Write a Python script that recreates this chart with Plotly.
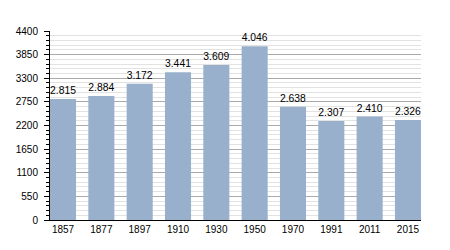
import plotly.graph_objects as go

years = ["1857", "1877", "1897", "1910", "1930", "1950", "1970", "1991", "2011", "2015"]
population = [2815, 2884, 3172, 3441, 3609, 4046, 2638, 2307, 2410, 2326]
labels = ["2.815", "2.884", "3.172", "3.441", "3.609", "4.046", "2.638", "2.307", "2.410", "2.326"]
y_ticks = [0, 550, 1100, 1650, 2200, 2750, 3300, 3850, 4400]

fig = go.Figure(
    go.Bar(
        x=years,
        y=population,
        text=labels,
        textposition="outside",
        textfont=dict(family="Liberation Sans, Arial, sans-serif", size=10.5, color="#000"),
        marker=dict(color="#98b0cb", line=dict(width=0)),
        cliponaxis=False,
        hoverinfo="skip",
    )
)

fig.update_layout(
    width=450,
    height=250,
    margin=dict(l=50, r=29, t=31, b=30),
    paper_bgcolor="white",
    plot_bgcolor="white",
    bargap=0.32,
    showlegend=False,
    font=dict(family="Liberation Sans, Arial, sans-serif", size=10, color="#000"),
)

fig.update_xaxes(
    type="category",
    range=[-0.34, 9.34],
    showline=True,
    linecolor="#000",
    linewidth=1,
    ticks="",
    showgrid=False,
    tickfont=dict(size=10),
    fixedrange=True,
)

fig.update_yaxes(
    range=[0, 4400],
    tickvals=y_ticks,
    ticktext=[str(v) for v in y_ticks],
    showline=True,
    linecolor="#000",
    linewidth=1,
    ticks="outside",
    ticklen=5,
    tickcolor="#000",
    showgrid=True,
    gridcolor="#aaaaaa",
    gridwidth=1,
    zeroline=False,
    tickfont=dict(size=10),
    ticklabelstandoff=4,
    minor=dict(
        dtick=110,
        tick0=0,
        ticks="outside",
        ticklen=3,
        tickcolor="#000",
        showgrid=True,
        gridcolor="#e2e2e2",
        gridwidth=1,
    ),
    layer="below traces",
    fixedrange=True,
)

fig.write_html("out.html")
